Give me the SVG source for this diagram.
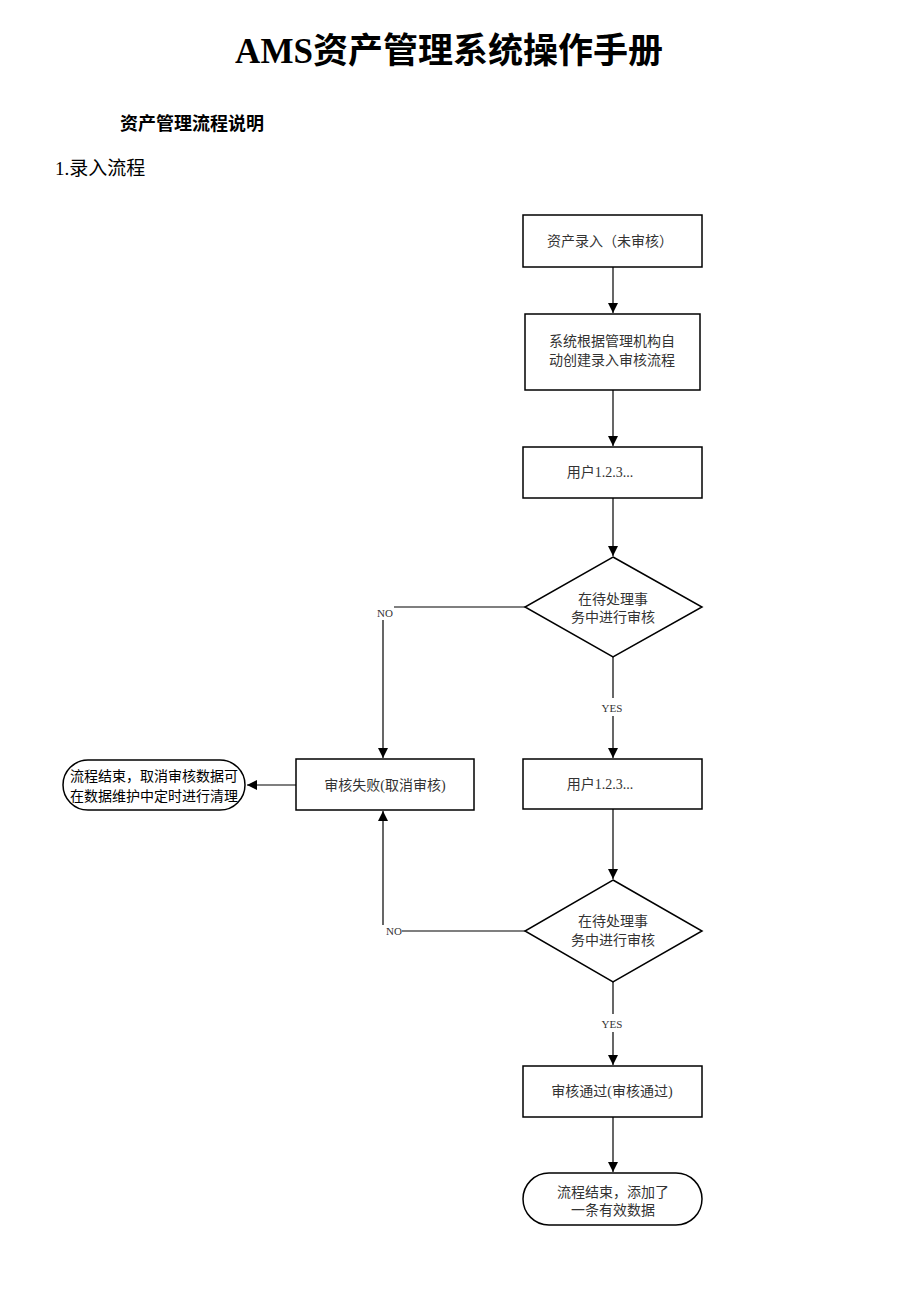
<svg xmlns="http://www.w3.org/2000/svg" width="920" height="1302" viewBox="0 0 920 1302">
<style>
.n{fill:#fff;stroke:#000;stroke-width:1.5}
.t{font-family:"Liberation Serif","Noto Sans CJK SC",serif;font-size:14px;fill:#333;text-anchor:middle}
.l{font-family:"Liberation Serif","Noto Sans CJK SC",serif;font-size:11px;fill:#333;text-anchor:middle}
.c{fill:none;stroke:#000;stroke-width:1.2}
</style>
<defs>
<marker id="a" viewBox="0 0 10 10" refX="10" refY="5" markerWidth="10" markerHeight="10" markerUnits="userSpaceOnUse" orient="auto">
<path d="M0,0L10,5L0,10z" fill="#000"/>
</marker>
</defs>
<rect width="920" height="1302" fill="#fff"/>
<text x="449" y="63" style="font-family:'Liberation Serif','Noto Sans CJK SC',serif;font-size:35px;font-weight:bold;text-anchor:middle" fill="#000">AMS资产管理系统操作手册</text>
<text x="120" y="130" style="font-family:'Liberation Serif','Noto Sans CJK SC',serif;font-size:18px;font-weight:bold" fill="#000">资产管理流程说明</text>
<text x="55" y="175" style="font-family:'Liberation Serif','Noto Sans CJK SC',serif;font-size:19px" fill="#000">1.录入流程</text>

<g id="connectors">
<path class="c" d="M613,267V313" marker-end="url(#a)"/>
<path class="c" d="M613,390V446" marker-end="url(#a)"/>
<path class="c" d="M613,498V556" marker-end="url(#a)"/>
<path class="c" d="M525,607H394"/>
<path class="c" d="M383,620V758" marker-end="url(#a)"/>
<path class="c" d="M613,657V698"/>
<path class="c" d="M613,716V758" marker-end="url(#a)"/>
<path class="c" d="M296,785H247" marker-end="url(#a)"/>
<path class="c" d="M613,809V879" marker-end="url(#a)"/>
<path class="c" d="M525,931H402"/>
<path class="c" d="M383,925V811" marker-end="url(#a)"/>
<path class="c" d="M613,982V1014"/>
<path class="c" d="M613,1032V1065" marker-end="url(#a)"/>
<path class="c" d="M613,1117V1172" marker-end="url(#a)"/>
<text class="l" x="385" y="617">NO</text>
<text class="l" x="394" y="935">NO</text>
<text class="l" x="612" y="712">YES</text>
<text class="l" x="612" y="1028">YES</text>
</g>

<g id="n1"><rect class="n" x="523" y="215" width="179" height="52"/><text class="t" x="610" y="246">资产录入（未审核）</text></g>
<g id="n2"><rect class="n" x="525" y="314" width="175" height="76"/><text class="t" x="612" y="346">系统根据管理机构自</text><text class="t" x="612" y="365">动创建录入审核流程</text></g>
<g id="n3"><rect class="n" x="523" y="447" width="179" height="51"/><text class="t" x="600" y="477">用户1.2.3...</text></g>
<g id="d1"><polygon class="n" points="613,557 702,607 613,657 525,607"/><text class="t" x="613" y="604">在待处理事</text><text class="t" x="613" y="622">务中进行审核</text></g>
<g id="n4"><rect class="n" x="296" y="759" width="178" height="51"/><text class="t" x="385" y="790">审核失败(取消审核)</text></g>
<g id="t1"><rect class="n" x="63" y="760" width="182" height="50" rx="25"/><text class="t" x="154" y="781" style="fill:#000">流程结束，取消审核数据可</text><text class="t" x="154" y="801" style="fill:#000">在数据维护中定时进行清理</text></g>
<g id="n5"><rect class="n" x="523" y="759" width="179" height="50"/><text class="t" x="600" y="789">用户1.2.3...</text></g>
<g id="d2"><polygon class="n" points="613,880 702,931 613,982 525,931"/><text class="t" x="613" y="926">在待处理事</text><text class="t" x="613" y="945">务中进行审核</text></g>
<g id="n6"><rect class="n" x="523" y="1066" width="179" height="51"/><text class="t" x="612" y="1096">审核通过(审核通过)</text></g>
<g id="t2"><rect class="n" x="523" y="1173" width="179" height="52" rx="26"/><text class="t" x="613" y="1197">流程结束，添加了</text><text class="t" x="613" y="1215">一条有效数据</text></g>
</svg>
